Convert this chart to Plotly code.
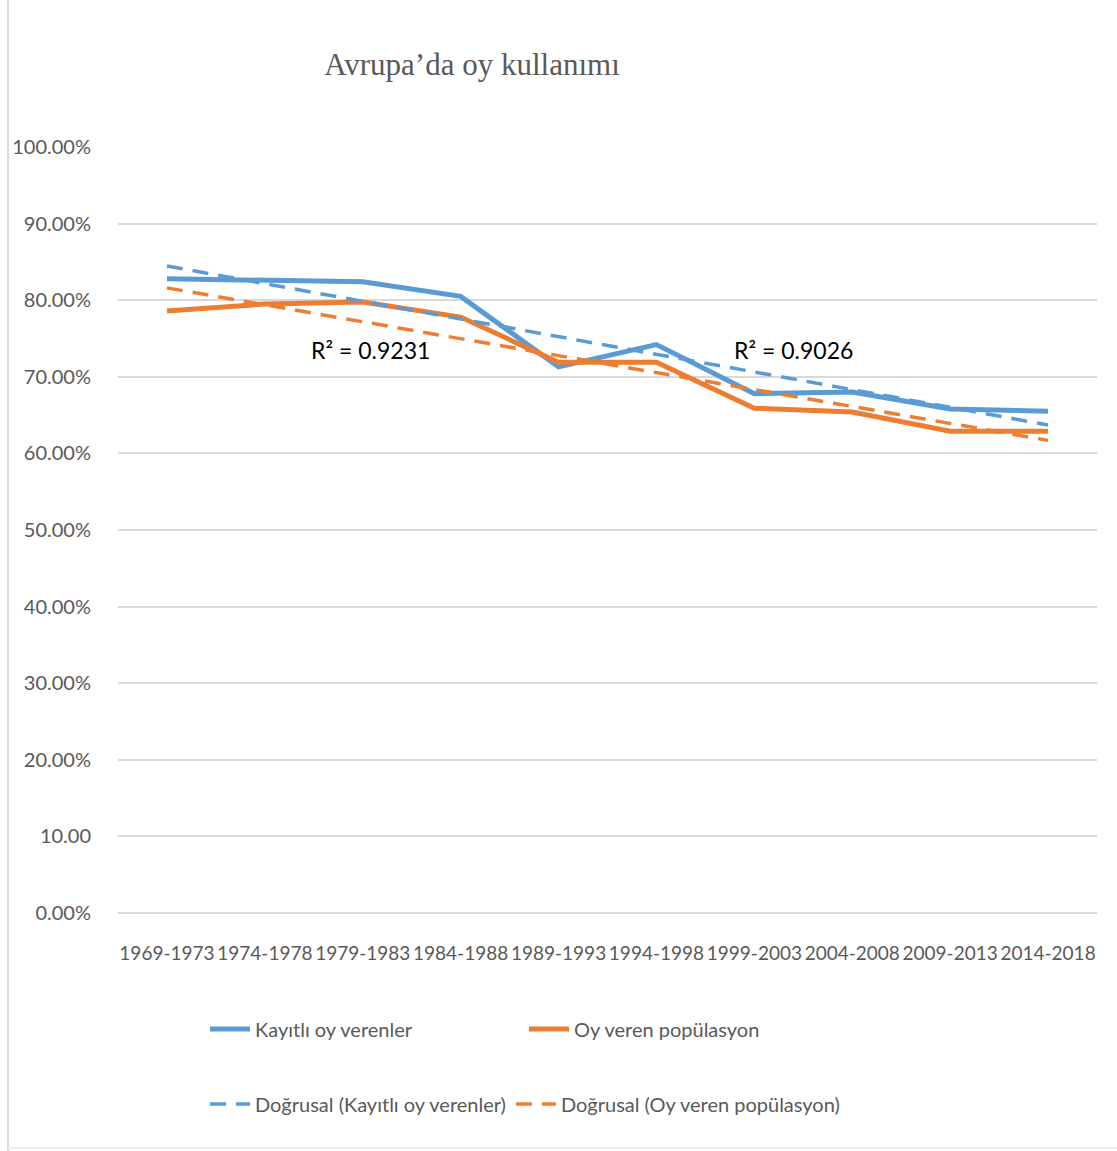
import numpy as np
import plotly.graph_objects as go

periods = ["1969-1973", "1974-1978", "1979-1983", "1984-1988", "1989-1993",
           "1994-1998", "1999-2003", "2004-2008", "2009-2013", "2014-2018"]
kayitli = [82.8, 82.6, 82.4, 80.5, 71.3, 74.2, 67.8, 68.0, 65.8, 65.5]
oy_veren = [78.6, 79.5, 79.75, 77.8, 71.9, 71.9, 65.9, 65.4, 62.9, 62.9]
y_tickvals = [0, 10, 20, 30, 40, 50, 60, 70, 80, 90, 100]
y_ticktext = ["0.00%", "10.00", "20.00%", "30.00%", "40.00%", "50.00%",
              "60.00%", "70.00%", "80.00%", "90.00%", "100.00%"]
r2_texts = ["R² = 0.9231", "R² = 0.9026"]

BLUE = "#5B9BD5"
ORANGE = "#ED7D31"
GREY = "#595959"

W, H = 1117, 1151
ML, MR, MT, MB = 118, 20, 147, 238
PW, PH = W - ML - MR, H - MT - MB

def px(x):  # page pixel -> paper x
    return (x - ML) / PW

def py(y):  # page pixel -> paper y
    return (H - MB - y) / PH

idx = np.arange(len(periods))
def trend(vals):
    m, b = np.polyfit(idx, vals, 1)
    return list(m * idx + b)

fig = go.Figure()
fig.add_trace(go.Scatter(x=periods, y=kayitli, mode="lines", name="Kayıtlı oy verenler",
                         line=dict(color=BLUE, width=5), legend="legend"))
fig.add_trace(go.Scatter(x=periods, y=oy_veren, mode="lines", name="Oy veren popülasyon",
                         line=dict(color=ORANGE, width=5), legend="legend"))
fig.add_trace(go.Scatter(x=periods, y=trend(kayitli), mode="lines",
                         name="Doğrusal (Kayıtlı oy verenler)",
                         line=dict(color=BLUE, width=3.5, dash="16px,10px"), legend="legend2"))
fig.add_trace(go.Scatter(x=periods, y=trend(oy_veren), mode="lines",
                         name="Doğrusal (Oy veren popülasyon)",
                         line=dict(color=ORANGE, width=3.5, dash="16px,10px"), legend="legend2"))

fig.add_annotation(x=px(370), y=py(350), xref="paper", yref="paper", text=r2_texts[0],
                   xanchor="center", yanchor="middle",
                   showarrow=False, font=dict(family="Lato", size=23, color="#000000"))
fig.add_annotation(x=px(793), y=py(350), xref="paper", yref="paper", text=r2_texts[1],
                   xanchor="center", yanchor="middle",
                   showarrow=False, font=dict(family="Lato", size=23, color="#000000"))

# chart-area border (left and bottom)
fig.add_shape(type="line", xref="paper", yref="paper", x0=px(8), x1=px(8), y0=py(1151), y1=py(0),
              line=dict(color="#D9D9D9", width=2))
fig.add_shape(type="line", xref="paper", yref="paper", x0=px(8), x1=px(1117), y0=py(1148), y1=py(1148),
              line=dict(color="#EFEFEF", width=2))

legend_common = dict(orientation="h", xref="container", yref="container",
                     xanchor="left", yanchor="middle",
                     font=dict(family="Lato", size=20, color=GREY), bgcolor="rgba(0,0,0,0)",
                     itemwidth=40, tracegroupgap=0)
fig.update_layout(
    width=W, height=H,
    margin=dict(l=ML, r=MR, t=MT, b=MB, autoexpand=False),
    paper_bgcolor="white", plot_bgcolor="white",
    title=dict(text="Avrupa’da oy kullanımı", x=472 / W, xref="container", xanchor="center",
               y=1 - 64 / H, yref="container", yanchor="middle",
               font=dict(family="Liberation Serif", size=31, color=GREY)),
    xaxis=dict(type="category", range=[-0.5, len(periods) - 0.5], showgrid=False,
               zeroline=False, showline=False, ticks="",
               tickangle=0, tickfont=dict(family="Lato", size=19, color=GREY),
               ticklabelstandoff=27),
    yaxis=dict(range=[0, 100], tickvals=y_tickvals, ticktext=y_ticktext,
               showgrid=True, gridcolor="#D9D9D9", gridwidth=1.5,
               zeroline=True, zerolinecolor="#D9D9D9", zerolinewidth=1.5,
               showline=False, ticks="", tickfont=dict(family="Lato", size=20, color=GREY),
               ticklabelstandoff=26),
    legend=dict(x=205 / W, y=1 - 1029 / H, entrywidth=264, entrywidthmode="pixels",
                **legend_common),
    legend2=dict(x=205 / W, y=1 - 1104 / H, entrywidth=0, **legend_common),
    showlegend=True,
)

fig.write_html("out.html")
